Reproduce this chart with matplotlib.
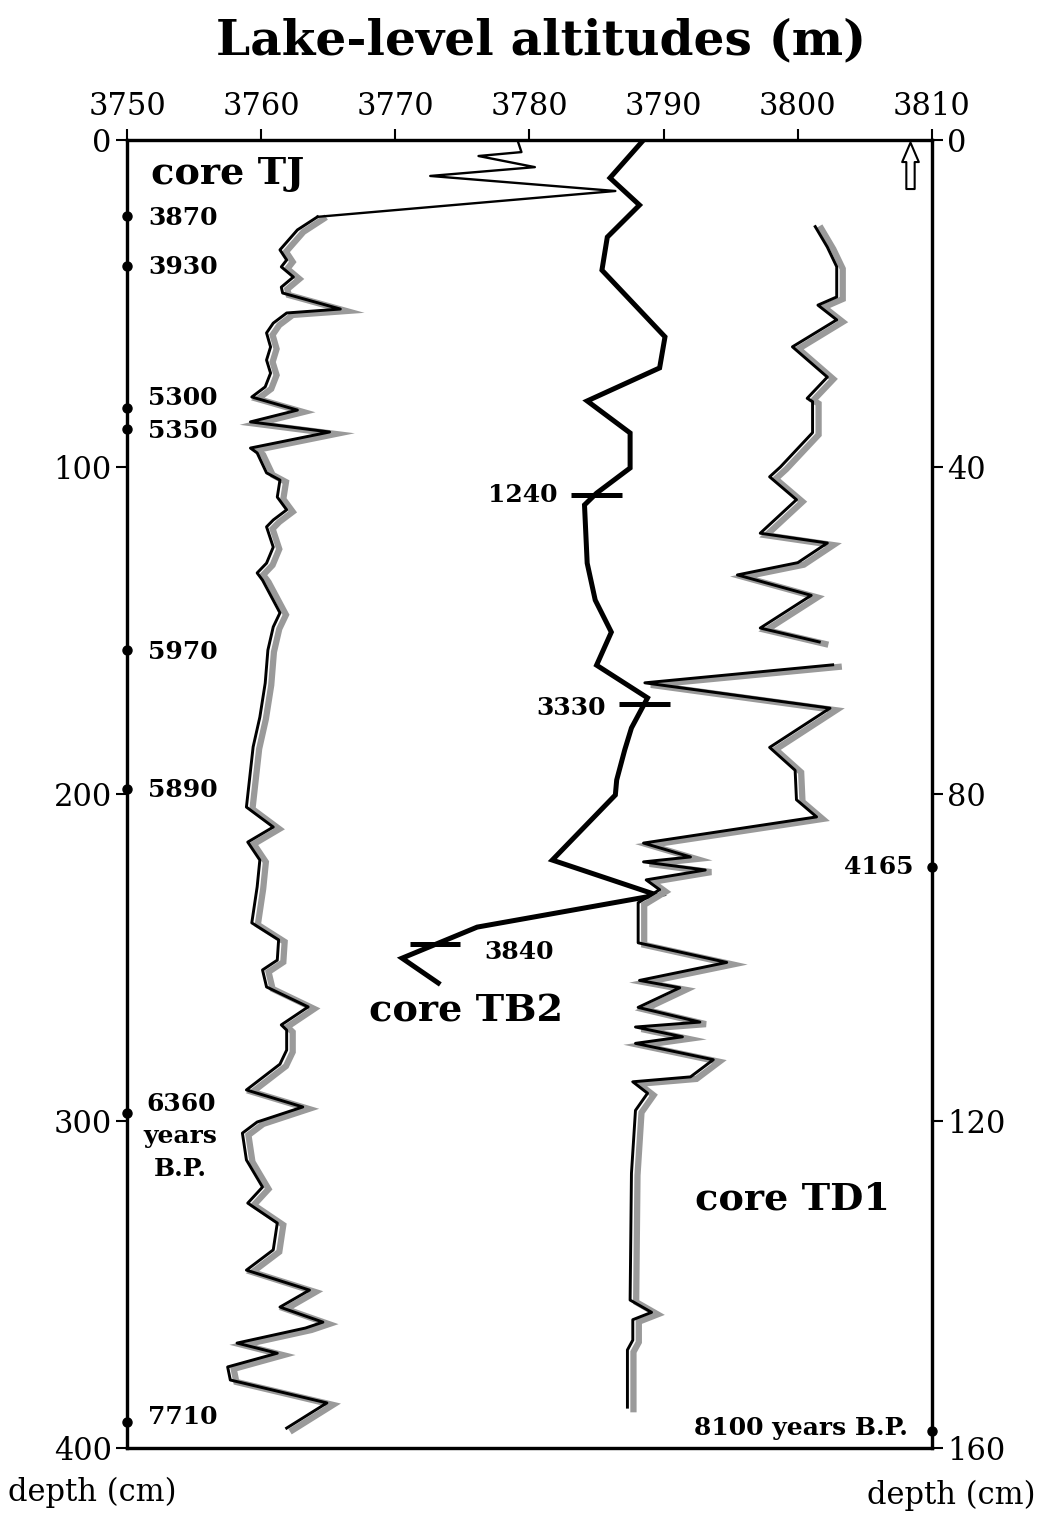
import matplotlib.pyplot as plt
import numpy as np

plt.rcParams['font.family'] = ['DejaVu Serif']

# core TJ (left depth axis, cm) -- altitude in m
tj_depth = [0, 3.7, 4.9, 8.3, 11.0, 15.6, 23.5, 27.5, 33.6, 36.7, 38.8, 41.9, 45.0,
            46.8, 51.7, 52.9, 56.0, 59.0, 63.3, 67.3, 71.3, 75.5, 78.6, 82.6, 86.2,
            89.3, 94.2, 95.7, 101.8, 104.0, 109.2, 113.1, 116.2, 118.3, 124.5, 129.4,
            132.4, 134.6, 144.6, 148.9, 156.0, 166.1, 176.5, 185.6, 204.0, 210.1,
            214.7, 220.2, 228.4, 239.4, 244.6, 250.8, 253.8, 259.0, 265.1, 270.6,
            272.2, 278.3, 282.6, 290.5, 295.7, 300.3, 303.7, 311.9, 320.2, 325.1,
            331.2, 339.4, 345.6, 351.7, 356.9, 361.5, 363.3, 367.9, 371.0, 375.2,
            379.2, 386.2, 393.9]
tj_alt = [3779.1, 3779.4, 3776.2, 3780.4, 3772.6, 3786.4, 3764.2, 3762.7, 3761.4,
          3761.9, 3761.5, 3762.4, 3761.5, 3761.6, 3765.9, 3761.9, 3760.9, 3760.4,
          3760.7, 3760.4, 3760.7, 3760.3, 3759.3, 3762.7, 3759.2, 3765.1, 3759.2,
          3759.7, 3760.4, 3761.4, 3761.2, 3761.9, 3760.9, 3760.4, 3760.9, 3760.4,
          3759.7, 3760.1, 3761.4, 3760.9, 3760.5, 3760.3, 3759.9, 3759.4, 3758.9,
          3760.9, 3759.0, 3759.9, 3759.7, 3759.3, 3761.3, 3761.2, 3760.1, 3760.4,
          3763.5, 3761.5, 3761.9, 3761.9, 3761.4, 3758.9, 3763.1, 3759.7, 3758.6,
          3758.9, 3760.1, 3759.0, 3761.2, 3760.9, 3758.9, 3763.6, 3761.4, 3764.6,
          3763.3, 3758.2, 3761.2, 3757.5, 3757.7, 3764.9, 3761.9]
tj_dates = ['3870', '3930', '5300', '5350', '5970', '5890', '7710']
tj_date_depth = [23.2, 38.5, 82.0, 88.4, 156.0, 198.5, 392.0]
tj_label_depth = [24.0, 38.9, 79.0, 89.0, 156.5, 198.8, 390.5]
tj_bp_depth = 297.5   # 6360 years B.P.

# core TB2 (left depth axis)
tb2_depth = [0, 11.6, 19.9, 29.7, 39.8, 60.2, 69.7, 79.8, 89.6, 100.3, 108.0, 111.6,
             129.4, 140.7, 150.5, 160.6, 170.6, 179.8, 186.5, 195.7, 200.3, 220.2,
             230.9, 240.7, 250.2, 257.8]
tb2_alt = [3788.5, 3786.0, 3788.2, 3785.8, 3785.4, 3790.1, 3789.7, 3784.3, 3787.5,
           3787.5, 3785.0, 3784.1, 3784.3, 3784.9, 3786.1, 3785.0, 3788.8, 3787.6,
           3787.1, 3786.5, 3786.4, 3781.7, 3789.5, 3776.1, 3770.5, 3773.2]
tb2_dates = ['1240', '3330', '3840']
tb2_date_depth = [108.6, 172.5, 245.9]
tb2_date_x0 = [3783.1, 3786.7, 3771.1]
tb2_date_x1 = [3786.9, 3790.5, 3774.8]

# core TD1 (right depth axis)
td1_depth = [10.6, 13.1, 15.5, 19.2, 20.2, 22.0, 25.3, 29.0, 31.6, 32.0, 35.8, 40.0,
             41.2, 44.0, 48.1, 49.3, 51.7, 53.2, 55.7, 59.7, 61.4, np.nan, 64.2, 66.4,
             69.5, 74.3, 77.1, 80.7, 82.8, 86.0, 87.7, 88.3, 89.3, 90.5, 91.7, 93.3,
             98.2, 100.6, 102.8, 103.7, 106.1, 107.9, 108.5, 109.7, 110.5, 112.5,
             114.6, 115.2, 116.6, 118.7, 126.4, 141.9, 143.4, 144.3, 146.8, 148.0,
             155.0]
td1_alt = [3801.3, 3802.2, 3802.9, 3802.9, 3801.5, 3802.9, 3799.6, 3802.2, 3800.7,
           3801.1, 3801.1, 3798.7, 3797.9, 3799.9, 3797.2, 3802.2, 3800.0, 3795.5,
           3801.0, 3797.2, 3801.6, np.nan, 3802.6, 3788.6, 3802.4, 3797.9, 3799.8,
           3799.9, 3801.4, 3788.5, 3792.0, 3788.5, 3793.1, 3788.7, 3789.7, 3788.1,
           3788.1, 3794.7, 3788.2, 3791.2, 3788.1, 3792.7, 3787.9, 3791.4, 3787.9,
           3793.7, 3792.0, 3787.7, 3788.8, 3787.9, 3787.6, 3787.5, 3789.1, 3787.7,
           3787.7, 3787.3, 3787.3]
td1_dates = ['4165', '8100 years B.P.']
td1_date_depth = [88.9, 157.9]

fig = plt.figure(figsize=(10.42, 15.15), dpi=100)
ax = fig.add_axes([0.1219, 0.0442, 0.7725, 0.8634])
ax2 = ax.twinx()

ax.set_xlim(3750, 3810)
ax.set_ylim(400, 0)
ax2.set_ylim(160, 0)

# axes styling
for a in (ax, ax2):
    for s in a.spines.values():
        s.set_linewidth(2.3)
ax.xaxis.tick_top()
ax.set_xticks(np.arange(3750, 3811, 10))
ax.tick_params(axis='x', top=True, bottom=False, direction='out', length=8, width=1.5,
               labelsize=22, pad=5)
ax.set_yticks(np.arange(0, 401, 100))
ax.tick_params(axis='y', direction='out', length=8, width=1.5, labelsize=22, pad=3)
ax2.set_yticks(np.arange(0, 161, 40))
ax2.tick_params(axis='y', direction='out', length=8, width=1.5, labelsize=22, pad=3)

shade = '#9a9a9a'
i0 = 6

# TJ
ax.plot(tj_alt[:i0 + 1], tj_depth[:i0 + 1], color='black', lw=1.7, zorder=3)
ax.plot(np.array(tj_alt[i0:]) + 0.45, np.array(tj_depth[i0:]) + 0.6, color=shade,
        lw=4.5, solid_joinstyle='miter', zorder=2)
ax.plot(tj_alt[i0:], tj_depth[i0:], color='black', lw=2.1, zorder=3)

# TB2
ax.plot(tb2_alt, tb2_depth, color='black', lw=3.6, solid_joinstyle='miter', zorder=4)
for d, x0, x1 in zip(tb2_date_depth, tb2_date_x0, tb2_date_x1):
    ax.plot([x0, x1], [d, d], color='black', lw=3.6, solid_capstyle='butt', zorder=4)
ax.text(3782.1, 108.6, tb2_dates[0], ha='right', va='center', fontsize=18, fontweight='bold')
ax.text(3785.7, 173.8, tb2_dates[1], ha='right', va='center', fontsize=18, fontweight='bold')
ax.text(3776.6, 248.4, tb2_dates[2], ha='left', va='center', fontsize=18, fontweight='bold')

# TD1
td1_a = np.array(td1_alt)
td1_d = np.array(td1_depth)
ax2.plot(td1_a + 0.45, td1_d + 0.25, color=shade, lw=4.5, solid_joinstyle='miter', zorder=2)
ax2.plot(td1_a, td1_d, color='black', lw=2.1, zorder=3)

# dated levels on the axes
ax.plot([3750] * (len(tj_date_depth) + 1), tj_date_depth + [tj_bp_depth], 'o',
        color='black', ms=6.5, clip_on=False, zorder=5)
ax2.plot([3810] * len(td1_date_depth), td1_date_depth, 'o', color='black', ms=6.5,
         clip_on=False, zorder=5)

for lab, y in zip(tj_dates, tj_label_depth):
    ax.text(3751.6, y, lab, ha='left', va='center', fontsize=18, fontweight='bold')
ax.text(3754.0, 291.0, '6360\nyears\nB.P.', ha='center', va='top', fontsize=18,
        fontweight='bold', linespacing=1.45)
ax2.text(3808.6, td1_date_depth[0], td1_dates[0], ha='right', va='center', fontsize=18,
         fontweight='bold')
ax2.text(3808.2, td1_date_depth[1] - 0.3, td1_dates[1], ha='right', va='center',
         fontsize=18, fontweight='bold')

# core names
ax.text(3751.8, 10.2, 'core TJ', ha='left', va='center', fontsize=27.5, fontweight='bold')
ax.text(3768.0, 266.5, 'core TB2', ha='left', va='center', fontsize=27.5, fontweight='bold')
ax2.text(3792.3, 129.5, 'core TD1', ha='left', va='center', fontsize=27.5, fontweight='bold')

# small up arrow (top right)
ax.annotate('', xy=(3808.4, 0.8), xytext=(3808.4, 15.0),
            arrowprops=dict(arrowstyle='simple,head_length=0.7,head_width=0.6,tail_width=0.3',
                            mutation_scale=20, fc='white', ec='black', lw=1.5,
                            shrinkA=0, shrinkB=0))

fig.text(0.519, 0.973, 'Lake-level altitudes (m)', ha='center', va='center', fontsize=35,
         fontweight='bold')
fig.text(0.008, 0.015, 'depth (cm)', ha='left', va='center', fontsize=22)
fig.text(0.994, 0.013, 'depth (cm)', ha='right', va='center', fontsize=22)

fig.savefig('out.png', dpi=100)
